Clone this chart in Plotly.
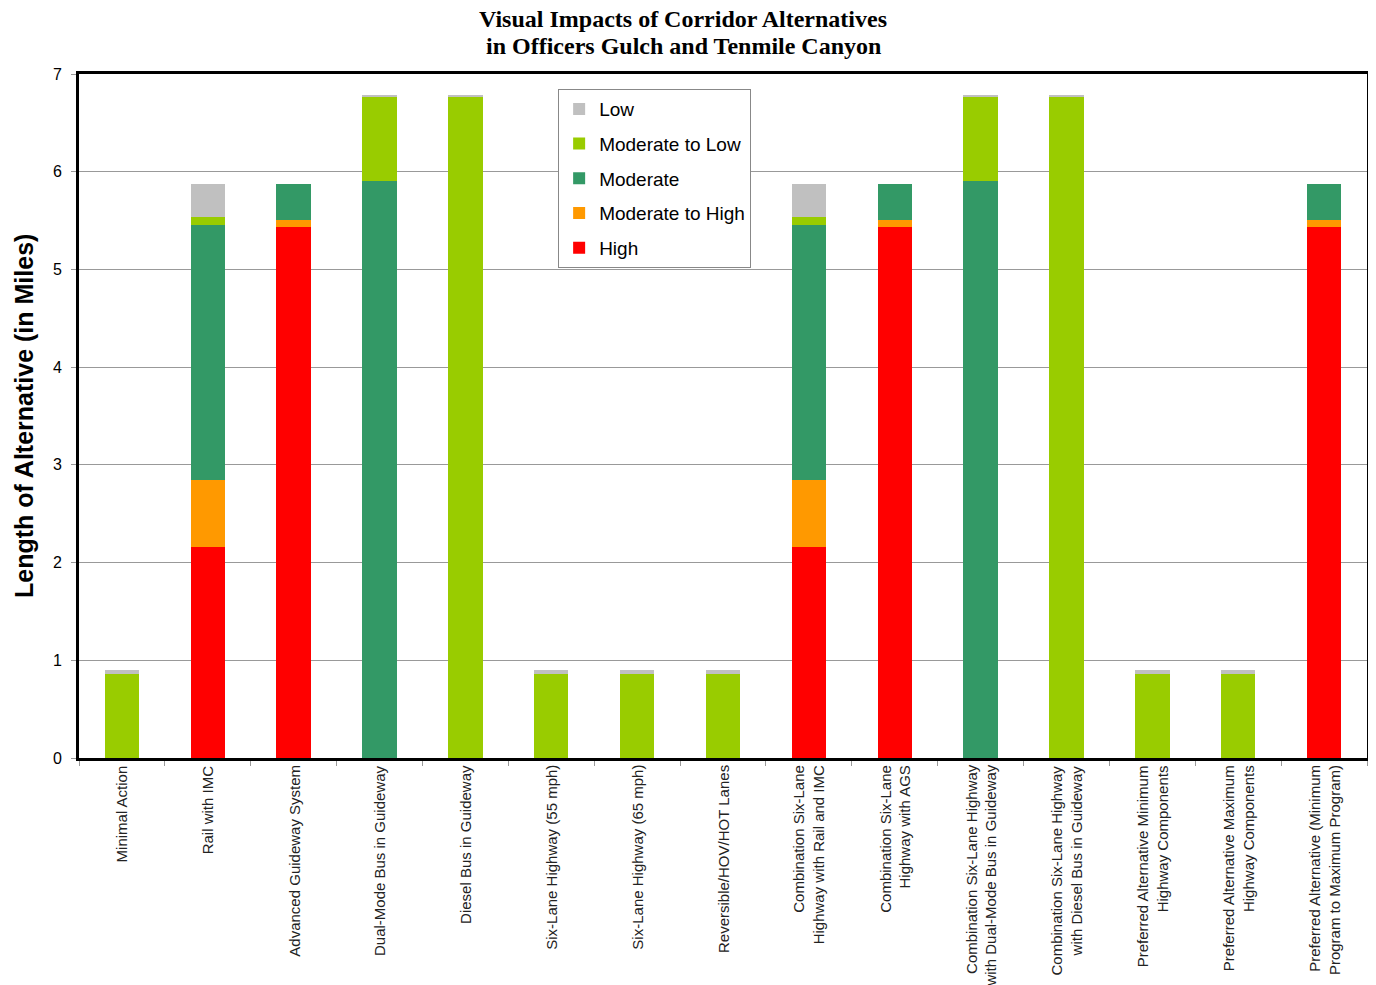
import plotly.graph_objects as go

categories = [
    "Minimal Action",
    "Rail with IMC",
    "Advanced Guideway System",
    "Dual-Mode Bus in Guideway",
    "Diesel Bus in Guideway",
    "Six-Lane Highway (55 mph)",
    "Six-Lane Highway (65 mph)",
    "Reversible/HOV/HOT Lanes",
    "Combination Six-Lane<br>Highway with Rail and IMC",
    "Combination Six-Lane<br>Highway with AGS",
    "Combination Six-Lane Highway<br>with Dual-Mode Bus in Guideway",
    "Combination Six-Lane Highway<br>with Diesel Bus in Guideway",
    "Preferred Alternative Minimum<br>Highway Components",
    "Preferred Alternative Maximum<br>Highway Components",
    "Preferred Alternative (Minimum<br>Program to Maximum Program)",
]

high = [0, 2.16, 5.43, 0, 0, 0, 0, 0, 2.16, 5.43, 0, 0, 0, 0, 5.43]
moderate_to_high = [0, 0.68, 0.08, 0, 0, 0, 0, 0, 0.68, 0.08, 0, 0, 0, 0, 0.08]
moderate = [0, 2.61, 0.36, 5.90, 0, 0, 0, 0, 2.61, 0.36, 5.90, 0, 0, 0, 0.36]
moderate_to_low = [0.86, 0.09, 0, 0.86, 6.76, 0.86, 0.86, 0.86, 0.09, 0, 0.86, 6.76, 0.86, 0.86, 0]
low = [0.04, 0.33, 0, 0.03, 0.03, 0.04, 0.04, 0.04, 0.33, 0, 0.03, 0.03, 0.04, 0.04, 0]

series = [
    ("High", high, "#FF0000"),
    ("Moderate to High", moderate_to_high, "#FF9900"),
    ("Moderate", moderate, "#339966"),
    ("Moderate to Low", moderate_to_low, "#99CC00"),
    ("Low", low, "#C0C0C0"),
]

y_ticks = [0, 1, 2, 3, 4, 5, 6, 7]

title_lines = ["<b>Visual Impacts of Corridor Alternatives</b>",
               "<b>in Officers Gulch and Tenmile Canyon</b>"]
y_title = "<b>Length of Alternative (in Miles)</b>"

fig = go.Figure()
n = len(series)
for i, (name, vals, color) in enumerate(series):
    fig.add_trace(go.Bar(
        x=categories, y=vals, name=name, legendgroup=name,
        legendrank=(n - i) * 100,
        marker=dict(color=color, line=dict(width=0)),
    ))

for cat in categories:
    fig.add_annotation(
        x=cat, xref="x", y=0, yref="paper", yshift=-5,
        text=cat, textangle=-90, showarrow=False,
        xanchor="center", yanchor="top", align="right",
        font=dict(family="Liberation Sans, Arial", size=15, color="#222222"),
    )

# title lines as annotations above the plot area
for line, shift in zip(title_lines, [55, 28]):
    fig.add_annotation(
        x=0.469, xref="paper", y=1, yref="paper", yshift=shift,
        text=line, showarrow=False, xanchor="center", yanchor="middle",
        font=dict(family="Liberation Serif, Times New Roman", size=24, color="black"),
    )

# y-axis title
fig.add_annotation(
    x=0, xref="paper", xshift=-55, y=0.5, yref="paper",
    text=y_title, textangle=-90, showarrow=False,
    xanchor="center", yanchor="middle",
    font=dict(family="Liberation Sans, Arial", size=25, color="black"),
)

fig.update_layout(
    width=1368, height=977,
    margin=dict(l=71, r=9, t=66, b=227),
    paper_bgcolor="white", plot_bgcolor="white",
    barmode="stack", bargap=0.6,
    legend=dict(
        x=0.372, y=0.978, xanchor="left", yanchor="top",
        traceorder="grouped",
        bgcolor="white", bordercolor="#888888", borderwidth=1,
        font=dict(family="Liberation Sans, Arial", size=19, color="black"),
        tracegroupgap=7, itemwidth=30,
    ),
    font=dict(family="Liberation Sans, Arial", color="black"),
    showlegend=True,
)

fig.update_xaxes(
    type="category", showticklabels=False, automargin=False,
    showline=True, linecolor="black", linewidth=3, mirror=True,
    ticks="outside", tickson="boundaries", ticklen=5, tickcolor="#999999",
    showgrid=False,
)
fig.update_yaxes(
    range=[0, 7], tickvals=y_ticks, automargin=False,
    showline=True, linecolor="black", linewidth=3, mirror=True,
    ticks="outside", ticklen=5, tickcolor="#999999", ticklabelstandoff=6,
    showgrid=True, gridcolor="#999999", gridwidth=1,
    tickfont=dict(family="Liberation Sans, Arial", size=16, color="black"),
    zeroline=False,
)

fig.write_html("out.html")
